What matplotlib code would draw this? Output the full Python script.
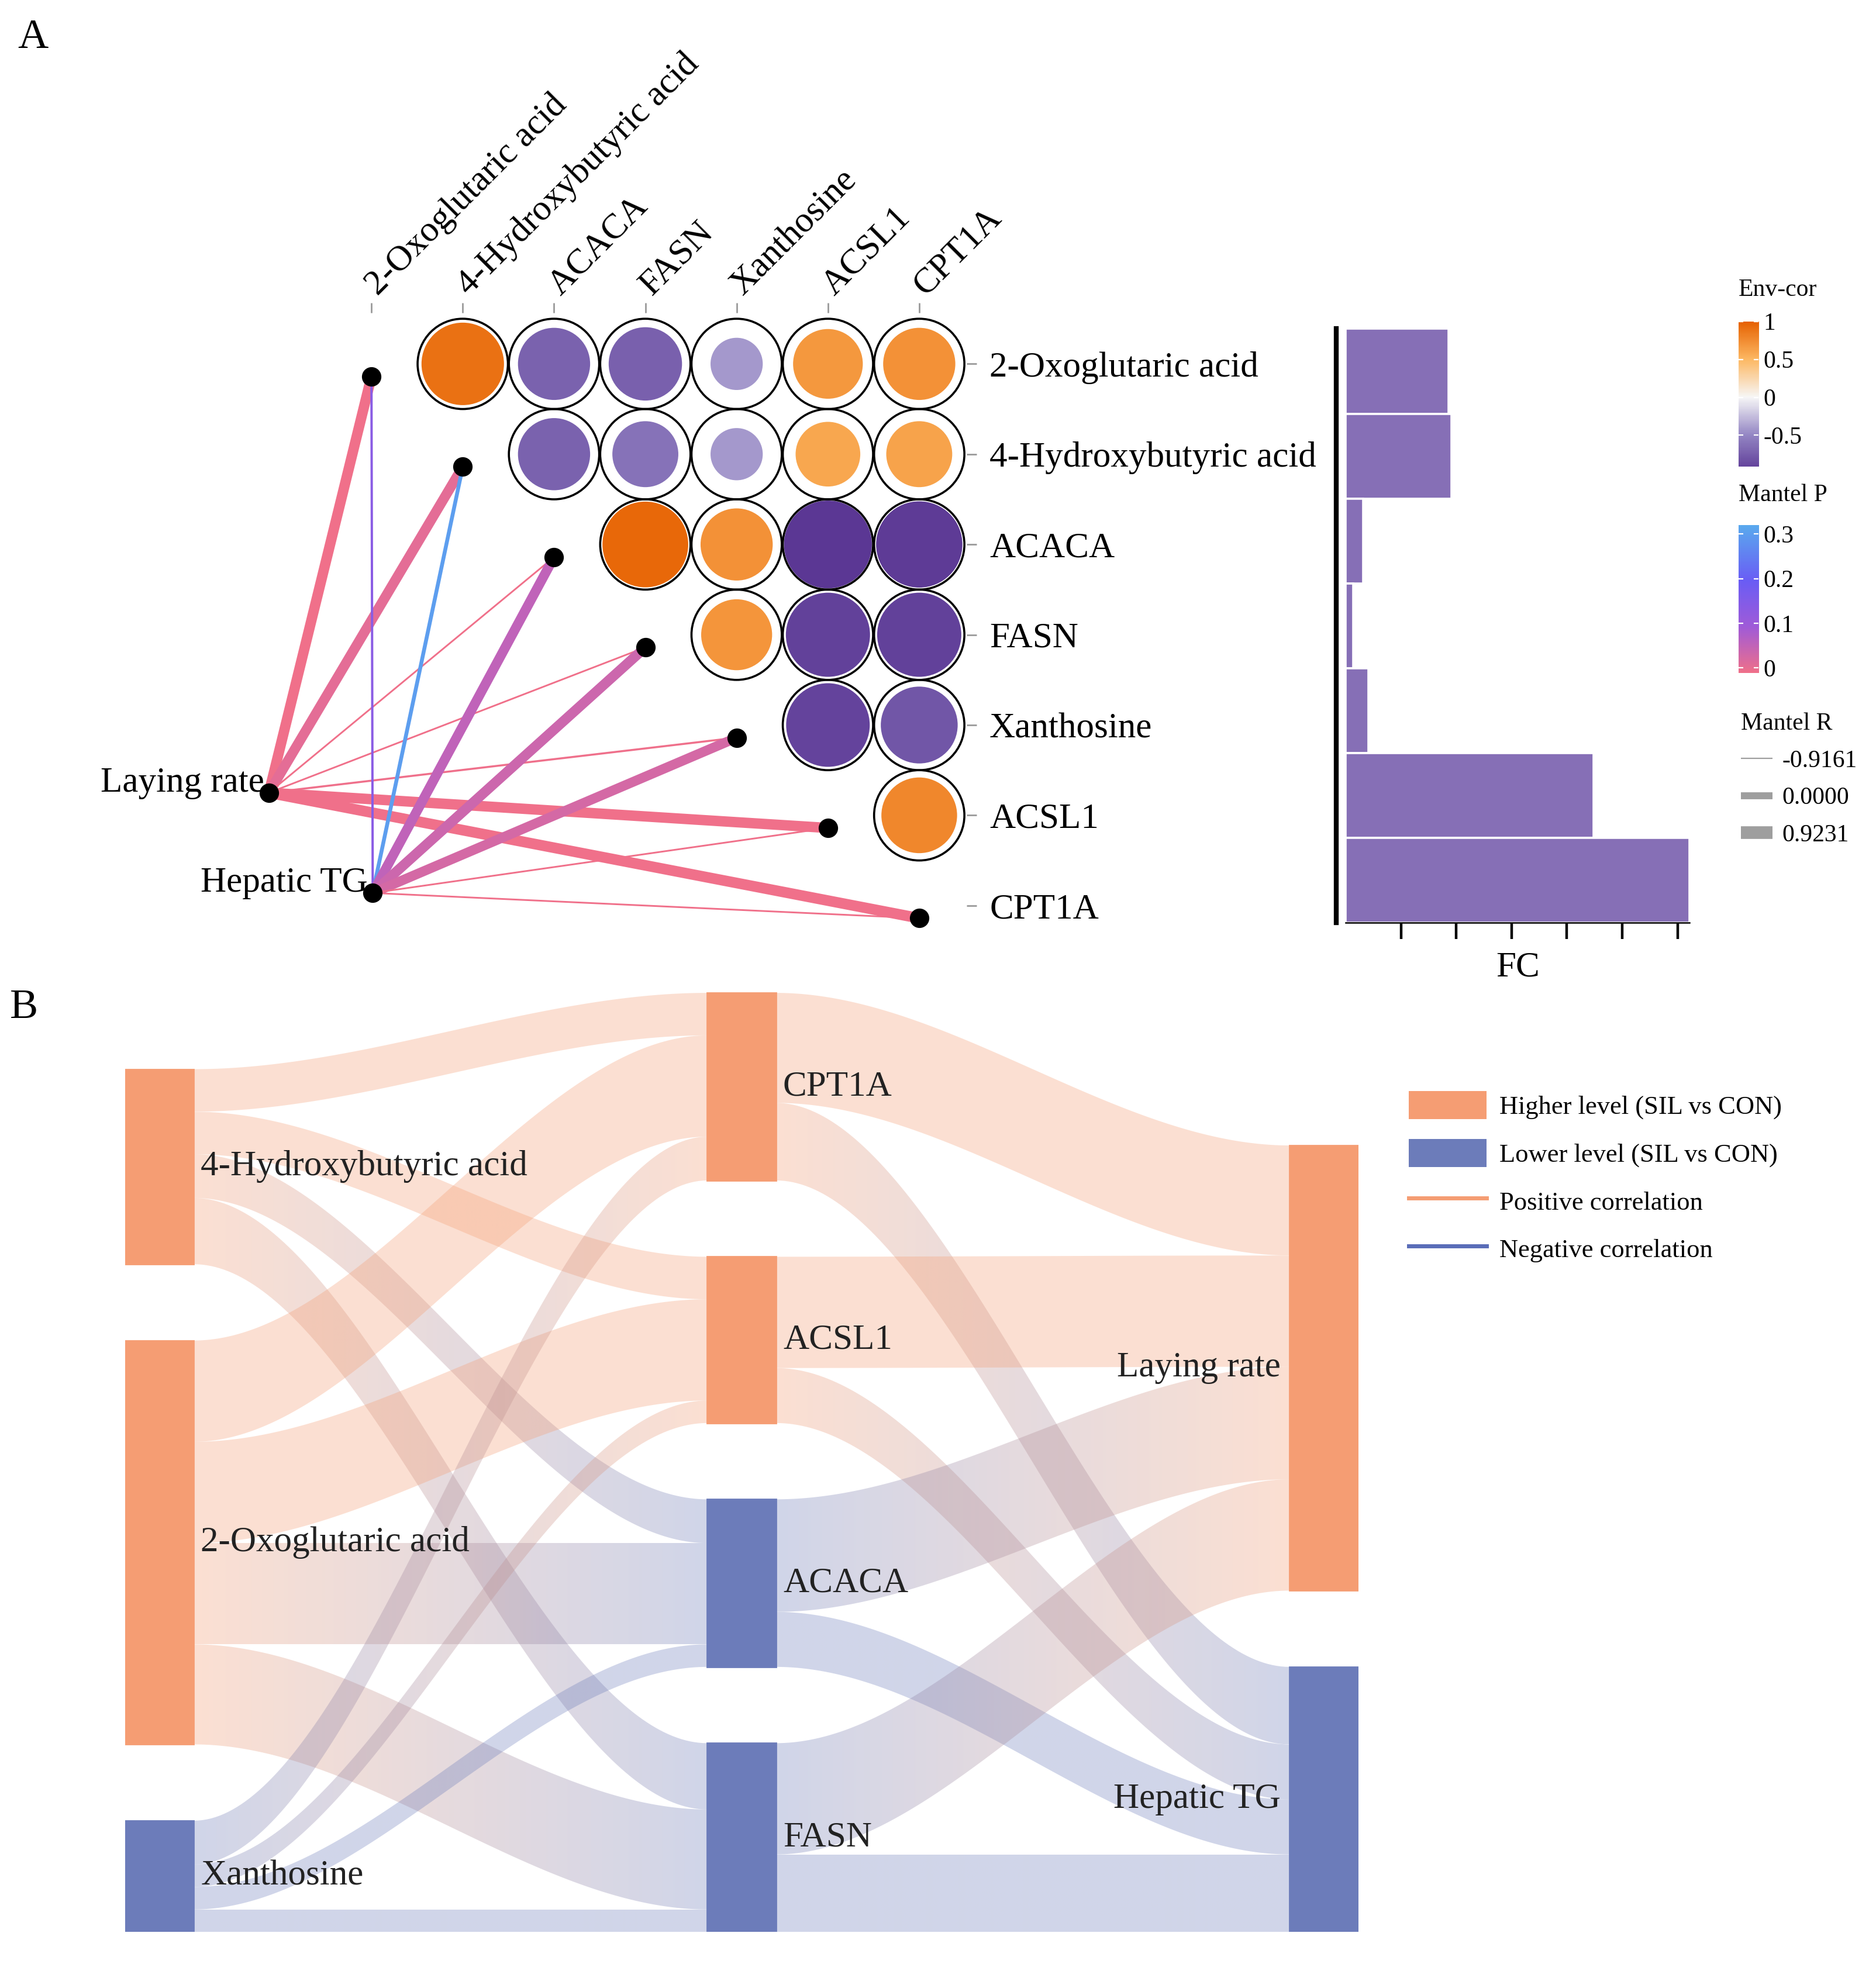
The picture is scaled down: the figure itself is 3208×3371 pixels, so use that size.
import numpy as np
import matplotlib
matplotlib.use('Agg')
import matplotlib.pyplot as plt
from matplotlib.colors import LinearSegmentedColormap, Normalize, to_rgb
from matplotlib.patches import Polygon, Rectangle, Patch
from matplotlib.lines import Line2D

plt.rcParams['font.family'] = ['Liberation Serif', 'DejaVu Serif']

# ---------------- panel A data ----------------
variables = ['2-Oxoglutaric acid', '4-Hydroxybutyric acid', 'ACACA', 'FASN',
             'Xanthosine', 'ACSL1', 'CPT1A']
# upper triangle: row i against columns i+1 .. 6
cor_rows = [
    [0.90, -0.72, -0.74, -0.42, 0.68, 0.72],
    [-0.72, -0.62, -0.42, 0.60, 0.62],
    [0.96, 0.72, -1.00, -0.97],
    [0.70, -0.93, -0.93],
    [-0.92, -0.80],
    [0.78],
]
env_names = ['Laying rate', 'Hepatic TG']
mantel_r = [
    [0.55, 0.50, -0.85, -0.85, -0.80, 0.55, 0.60],
    [-0.75, -0.50, 0.45, 0.50, 0.45, -0.85, -0.85],
]
mantel_p = [
    [0.001, 0.015, 0.001, 0.001, 0.002, 0.001, 0.001],
    [0.14, 0.30, 0.06, 0.045, 0.035, 0.001, 0.001],
]
fc = [1.86, 1.91, 0.32, 0.14, 0.41, 4.48, 6.22]
r_legend = [-0.9161, 0.0000, 0.9231]

# ---------------- panel B data ----------------
src_nodes = ['4-Hydroxybutyric acid', '2-Oxoglutaric acid', 'Xanthosine']
gene_nodes = ['CPT1A', 'ACSL1', 'ACACA', 'FASN']
trait_nodes = ['Laying rate', 'Hepatic TG']
src_higher = [True, True, False]
gene_higher = [True, True, False, False]
trait_higher = [True, False]
flow_src_gene = [[34, 34, 35, 53],
                 [81, 81, 81, 80],
                 [35, 18, 18, 18]]
flow_gene_trait = [[88, 62],
                   [89, 44],
                   [90, 44],
                   [89, 62]]

# ---------------- styling ----------------
cor_cmap = LinearSegmentedColormap.from_list(
    'envcor', [(0, '#5B3794'), (0.25, '#9486C4'), (0.5, '#F7F7F7'),
               (0.75, '#FDB863'), (1, '#E66101')])
cor_norm = Normalize(-1, 1)
p_cmap = LinearSegmentedColormap.from_list(
    'mantelp', [(0, '#F0708A'), (0.1 / 0.32, '#A05BD8'),
                (0.2 / 0.32, '#6A5DF5'), (1, '#5AAAEE')])
p_norm = Normalize(0, 0.32)
ORANGE = '#F59D73'
BLUE = '#6C7CBA'
BAR = '#866FB6'

W, H = 1500.0, 1576.2   # reference layout units


def fr(x0, y0, x1, y1):
    return [x0 / W, 1 - y1 / H, (x1 - x0) / W, (y1 - y0) / H]


def r_width(r):
    return 0.8 + (r + 0.9161) / 1.8392 * 7.0


fig = plt.figure(figsize=(16.04, 16.855), dpi=200)

# ================= panel A: correlation + mantel =================
ax = fig.add_axes(fr(60, 250, 773, 760))
dx, dy = 73.0, 72.2
ax.set_xlim((60 - 297) / dx, (773 - 297) / dx)
ax.set_ylim((760 - 291) / dy, (250 - 291) / dy)
for s in ax.spines.values():
    s.set_visible(False)

n = len(variables)
xs, ys, cs = [], [], []
for i, row in enumerate(cor_rows):
    for k, r in enumerate(row):
        xs.append(i + 1 + k)
        ys.append(i)
        cs.append(r)
D = 55.6
ax.scatter(xs, ys, s=D ** 2, facecolor='white', edgecolor='none', zorder=2)
ax.scatter(xs, ys, s=[((D - 1.5) * abs(r) ** 0.6) ** 2 for r in cs],
           c=cs, cmap=cor_cmap, norm=cor_norm, edgecolor='none', zorder=3)
ax.scatter(xs, ys, s=D ** 2, facecolor='none', edgecolor='black',
           linewidth=1.3, zorder=4)

# mantel links
env_pos = [(-1.123, 4.75), (0.014, 5.86)]
ends = [(i, i + 0.14) for i in range(n)]
for e, (ex, ey) in enumerate(env_pos):
    for i in range(n):
        ax.plot([ex, ends[i][0]], [ey, ends[i][1]],
                color=p_cmap(p_norm(mantel_p[e][i])),
                lw=r_width(mantel_r[e][i]), solid_capstyle='butt', zorder=5)
ax.scatter([p[0] for p in ends], [p[1] for p in ends], s=120, color='black', zorder=6)
ax.scatter([p[0] for p in env_pos], [p[1] for p in env_pos], s=120, color='black', zorder=6)
for name, (ex, ey) in zip(env_names, env_pos):
    ax.annotate(name, (ex, ey), xytext=(-3, 6), textcoords='offset points',
                ha='right', va='center', fontsize=22, zorder=7)

ax.set_xticks(range(n))
ax.set_yticks(range(n))
ax.xaxis.tick_top()
ax.yaxis.tick_right()
ax.set_xticklabels(variables, rotation=45, ha='left', va='center',
                   rotation_mode='anchor', fontsize=22)
ax.set_yticklabels(variables, fontsize=22)
ax.tick_params(axis='x', colors='#9A9A9A', length=6, width=1.0, pad=8, labelcolor='black')
ax.tick_params(axis='y', colors='#9A9A9A', length=6, width=1.0, pad=8, labelcolor='black')

# FC bars
axb = fig.add_axes(fr(1076, 263, 1351, 738))
axb.barh(range(n), fc, height=1.0, color=BAR, edgecolor='white', linewidth=1.3)
axb.set_ylim(n - 0.5, -0.5)
axb.set_xlim(0, max(fc))
axb.set_yticks([])
axb.set_xticks([1, 2, 3, 4, 5, 6])
axb.set_xticklabels([])
axb.tick_params(axis='x', length=10, width=1.6, direction='out')
axb.spines['top'].set_visible(False)
axb.spines['right'].set_visible(False)
axb.spines['left'].set_position(('outward', 6))
axb.spines['left'].set_linewidth(3.0)
axb.spines['bottom'].set_linewidth(0.9)
axb.set_xlabel('FC', fontsize=22, labelpad=4)

# Env-cor colorbar
fig.text(1390 / W, 1 - 232 / H, 'Env-cor', fontsize=15, va='center', ha='left')
cax1 = fig.add_axes(fr(1390, 257, 1406, 373))
lo1, hi1 = -0.91, 1.0
cax1.imshow(np.linspace(lo1, hi1, 256)[:, None], cmap=cor_cmap, norm=cor_norm,
            extent=(0, 1, lo1, hi1), origin='lower', aspect='auto')
cax1.set_xticks([])
cax1.set_yticks([-0.5, 0, 0.5, 1])
cax1.set_yticklabels(['-0.5', '0', '0.5', '1'])

# Mantel P colorbar
fig.text(1390 / W, 1 - 396 / H, 'Mantel P', fontsize=15, va='center', ha='left')
cax2 = fig.add_axes(fr(1390, 420, 1406, 538))
lo2, hi2 = -0.011, 0.32
cax2.imshow(np.linspace(0, hi2, 256)[:, None], cmap=p_cmap, norm=p_norm,
            extent=(0, 1, lo2, hi2), origin='lower', aspect='auto')
cax2.set_xticks([])
cax2.set_yticks([0, 0.1, 0.2, 0.3])
cax2.set_yticklabels(['0', '0.1', '0.2', '0.3'])
for c in (cax1, cax2):
    for s in c.spines.values():
        s.set_visible(False)
    c.yaxis.tick_right()
    c.tick_params(axis='y', direction='in', colors='white', length=3, width=0.8,
                  labelcolor='black', labelsize=15, pad=3, left=True)

# Mantel R legend
r_handles = [Line2D([], [], color='#9E9E9E', lw=r_width(r), solid_capstyle='butt')
             for r in r_legend]
leg = fig.legend(r_handles, ['%.4f' % r for r in r_legend], title='Mantel R',
                 loc='upper left', bbox_to_anchor=(1384 / W, 1 - 562 / H),
                 frameon=False, fontsize=15, title_fontsize=15, handlelength=1.3,
                 handletextpad=0.4, labelspacing=0.6, borderaxespad=0)
leg._legend_box.align = 'left'

fig.text(14 / W, 1 - 30 / H, 'A', fontsize=26, va='center', ha='left')

# ================= panel B: sankey =================
axs = fig.add_axes(fr(100, 793, 1086, 1545))
gap = 61.0
nw = 55.0 / 466.0


def col_layout(totals):
    tops = []
    y = sum(totals) + gap * (len(totals) - 1)
    for t in totals:
        tops.append(y)
        y -= t + gap
    return tops


src_tot = [sum(r) for r in flow_src_gene]
gene_tot = [sum(r) for r in flow_gene_trait]
trait_tot = [sum(flow_gene_trait[i][j] for i in range(len(gene_nodes)))
             for j in range(len(trait_nodes))]
cols = [(src_nodes, src_tot, src_higher), (gene_nodes, gene_tot, gene_higher),
        (trait_nodes, trait_tot, trait_higher)]
tops = [col_layout(c[1]) for c in cols]


def draw_link(x0, x1, s_hi, s_lo, t_hi, t_lo, c0, c1, alpha=0.32):
    u = np.linspace(0, 1, 120)
    sm = 3 * u ** 2 - 2 * u ** 3
    xx = x0 + (x1 - x0) * u
    top = s_hi + (t_hi - s_hi) * sm
    bot = s_lo + (t_lo - s_lo) * sm
    verts = np.vstack([np.column_stack([xx, top]), np.column_stack([xx, bot])[::-1]])
    poly = Polygon(verts, closed=True, facecolor='none', edgecolor='none')
    axs.add_patch(poly)
    a, b = np.array(to_rgb(c0)), np.array(to_rgb(c1))
    g = np.linspace(0, 1, 256)[:, None]
    rgb = a * (1 - g) + b * g
    img = np.zeros((2, 256, 4))
    img[:, :, :3] = rgb[None, :, :]
    img[:, :, 3] = alpha
    im = axs.imshow(img, extent=(x0, x1, min(bot.min(), top.min()), max(top.max(), bot.max())),
                    origin='lower', aspect='auto', interpolation='bilinear', zorder=1)
    im.set_clip_path(poly)


stages = [(0, 1, flow_src_gene), (1, 2, flow_gene_trait)]
for ca, cb, F in stages:
    out_cur = list(tops[ca])
    in_cur = list(tops[cb])
    for i, row in enumerate(F):
        for j, v in enumerate(row):
            s_hi = out_cur[i]; s_lo = s_hi - v; out_cur[i] = s_lo
            t_hi = in_cur[j]; t_lo = t_hi - v; in_cur[j] = t_lo
            c0 = ORANGE if cols[ca][2][i] else BLUE
            c1 = ORANGE if cols[cb][2][j] else BLUE
            draw_link(ca + nw, cb, s_hi, s_lo, t_hi, t_lo, c0, c1)

for c, (names, tots, higher) in enumerate(cols):
    for name, t, top, hi in zip(names, tots, tops[c], higher):
        axs.add_patch(Rectangle((c, top - t), nw, t, color=ORANGE if hi else BLUE, zorder=3))
        if c < 2:
            axs.text(c + nw + 0.012, top - t / 2, name, ha='left', va='center',
                     fontsize=22, color='#222222', zorder=4)
        else:
            axs.text(c - 0.015, top - t / 2, name, ha='right', va='center',
                     fontsize=22, color='#222222', zorder=4)
axs.set_xlim(0, 2 + nw)
axs.set_ylim(0, 752)
axs.axis('off')

b_handles = [Patch(facecolor=ORANGE, edgecolor='none'),
             Patch(facecolor=BLUE, edgecolor='none'),
             Line2D([], [], color=ORANGE, lw=2.5),
             Line2D([], [], color='#5A6DB8', lw=2.5)]
b_labels = ['Higher level (SIL vs CON)', 'Lower level (SIL vs CON)',
            'Positive correlation', 'Negative correlation']
fig.legend(b_handles, b_labels, loc='upper left',
           bbox_to_anchor=(1118 / W, 1 - 864 / H), frameon=False, fontsize=16,
           handlelength=3.0, handleheight=1.3, labelspacing=0.75,
           handletextpad=0.5, borderaxespad=0)

fig.text(8 / W, 1 - 806 / H, 'B', fontsize=26, va='center', ha='left')

fig.savefig('out.png', dpi=200)
